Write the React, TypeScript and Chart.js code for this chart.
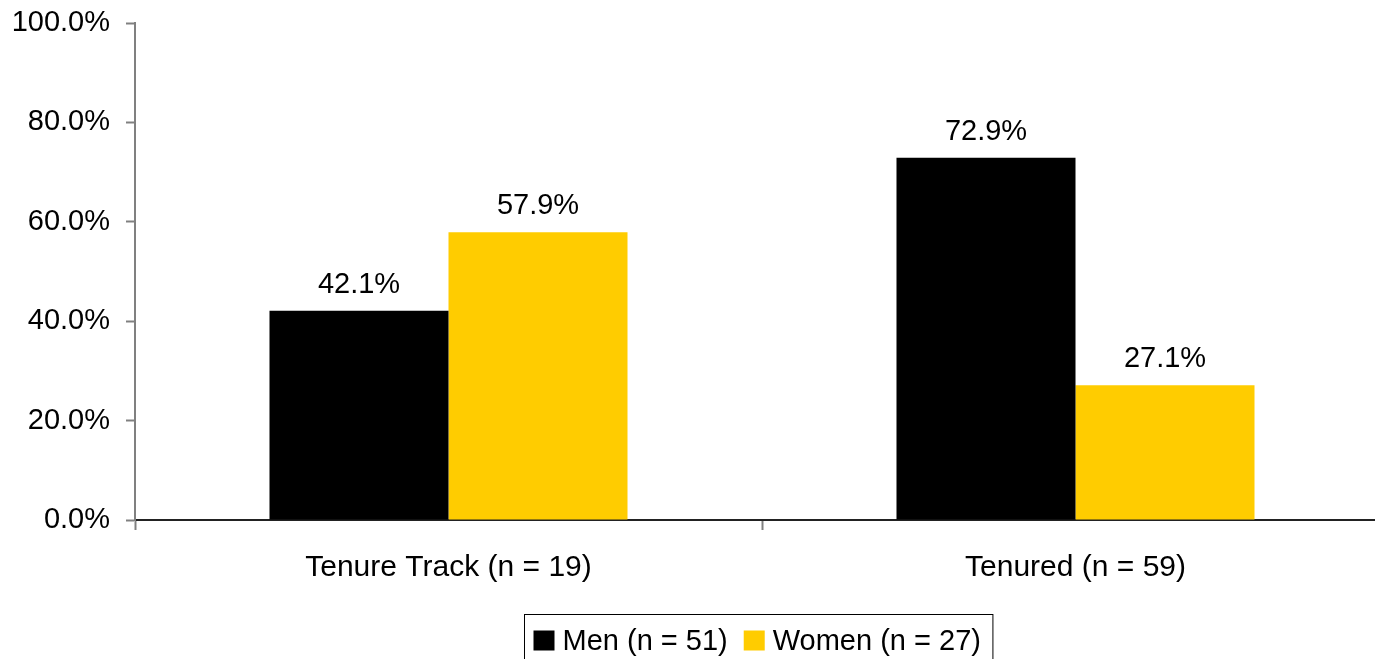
import React, { useEffect, useRef } from "react";
import { Chart, registerables } from "chart.js";

Chart.register(...registerables);

const categories = ["Tenure Track (n = 19)", "Tenured (n = 59)"];
const seriesNames = ["Men (n = 51)", "Women (n = 27)"];
const menValues = [42.1, 72.9];
const womenValues = [57.9, 27.1];
const seriesColors = ["#000000", "#FFCC00"];
const yTicks = [0, 20, 40, 60, 80, 100];

const FONT = "'Liberation Sans', Arial, sans-serif";
const FONT_SIZE = 29;

const dataLabelPlugin = {
  id: "dataLabels",
  afterDatasetsDraw(chart: any) {
    const ctx = chart.ctx;
    ctx.save();
    ctx.font = `${FONT_SIZE}px ${FONT}`;
    ctx.fillStyle = "#000";
    ctx.textAlign = "center";
    ctx.textBaseline = "alphabetic";
    chart.data.datasets.forEach((ds: any, i: number) => {
      const meta = chart.getDatasetMeta(i);
      meta.data.forEach((bar: any, j: number) => {
        const v = ds.data[j] as number;
        ctx.fillText(v.toFixed(1) + "%", bar.x, bar.y - 18);
      });
    });
    ctx.restore();
  },
};

const boxLegendPlugin = {
  id: "boxLegend",
  afterDraw(chart: any) {
    const ctx = chart.ctx;
    ctx.save();
    ctx.font = `${FONT_SIZE}px ${FONT}`;
    const padL = 9;
    const padR = 12;
    const sq = 21;
    const sqH = 20;
    const gapText = 8;
    const gapItem = 16;
    const items = chart.data.datasets.map((ds: any) => ({
      label: ds.label as string,
      color: ds.backgroundColor as string,
      w: ctx.measureText(ds.label).width,
    }));
    let total = padL + padR;
    items.forEach((it: any, i: number) => {
      total += sq + gapText + it.w + (i < items.length - 1 ? gapItem : 0);
    });
    const cx = (chart.chartArea.left + chart.chartArea.right) / 2 - 4;
    const left = Math.round(cx - total / 2) + 0.5;
    const top = 614.5;
    const height = 54;
    ctx.strokeStyle = "#000";
    ctx.lineWidth = 1;
    ctx.strokeRect(left, top, total, height);
    let x = left + padL;
    ctx.textBaseline = "middle";
    ctx.textAlign = "left";
    items.forEach((it: any) => {
      ctx.fillStyle = it.color;
      ctx.fillRect(x, top + 16, sq, sqH);
      x += sq + gapText;
      ctx.fillStyle = "#000";
      ctx.fillText(it.label, x, top + 27);
      x += it.w + gapItem;
    });
    ctx.restore();
  },
};

export default function App() {
  const ref = useRef<HTMLCanvasElement | null>(null);
  useEffect(() => {
    if (!ref.current) return;
    Chart.defaults.font.family = FONT;
    Chart.defaults.font.size = FONT_SIZE;
    Chart.defaults.color = "#000";
    const chart = new Chart(ref.current, {
      type: "bar",
      data: {
        labels: categories,
        datasets: [
          {
            label: seriesNames[0],
            data: menValues,
            backgroundColor: seriesColors[0],
            borderWidth: 0,
          },
          {
            label: seriesNames[1],
            data: womenValues,
            backgroundColor: seriesColors[1],
            borderWidth: 0,
          },
        ],
      },
      options: {
        responsive: false,
        devicePixelRatio: 1,
        animation: false,
        categoryPercentage: 0.571,
        barPercentage: 1.0,
        layout: { padding: { top: 23, right: 11, left: 12, bottom: 74 } },
        plugins: {
          legend: { display: false },
          tooltip: { enabled: false },
        },
        scales: {
          x: {
            grid: {
              drawOnChartArea: false,
              drawTicks: true,
              tickLength: 10,
              tickColor: "#808080",
              tickWidth: 2,
              offset: true,
            },
            border: { display: true, color: "#222222", width: 2 },
            ticks: {
              padding: 20,
              font: { size: 30, family: FONT },
              color: "#000",
            },
          },
          y: {
            min: 0,
            max: 100,
            afterBuildTicks: (axis: any) => {
              axis.ticks = yTicks.map((v) => ({ value: v }));
            },
            afterFit: (axis: any) => {
              axis.width = 123;
              axis.paddingTop = 0;
              axis.paddingBottom = 0;
            },
            grid: {
              drawOnChartArea: false,
              drawTicks: true,
              tickLength: 9,
              tickColor: "#808080",
              tickWidth: 2,
            },
            border: { display: true, color: "#808080", width: 2 },
            ticks: {
              padding: 16,
              font: { size: FONT_SIZE, family: FONT },
              color: "#000",
              callback: (v: any) => Number(v).toFixed(1) + "%",
            },
          },
        },
      },
      plugins: [dataLabelPlugin, boxLegendPlugin],
    });
    return () => chart.destroy();
  }, []);
  return (
    <div
      style={{
        position: "absolute",
        left: 0,
        top: 0,
        width: 1375,
        height: 659,
        overflow: "hidden",
        background: "#fff",
      }}
    >
      <canvas ref={ref} width={1400} height={680} style={{ display: "block" }} />
    </div>
  );
}
